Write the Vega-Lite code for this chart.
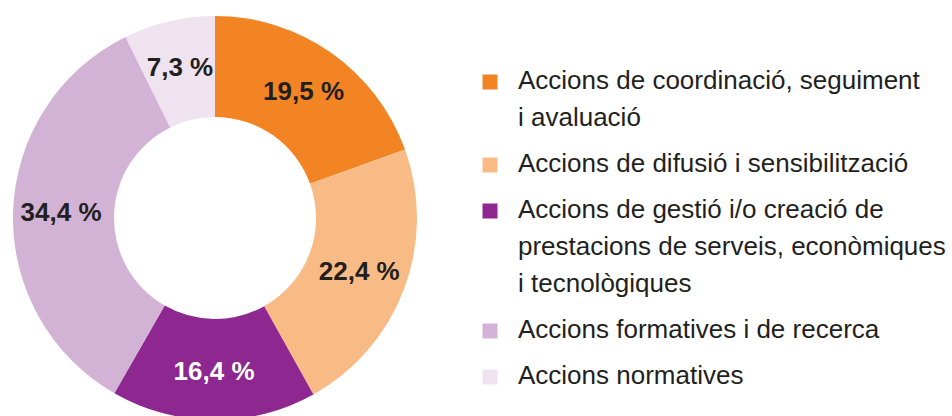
{
  "$schema": "https://vega.github.io/schema/vega-lite/v6.json",
  "width": 430,
  "height": 436,
  "padding": 0,
  "background": "white",
  "config": {
    "view": {"stroke": null},
    "font": "Liberation Sans",
    "style": {"guide-label": {"lineHeight": 37, "dy": 7}}
  },
  "data": {
    "values": [
      {"category": "Accions de coordinació, seguiment i avaluació", "value": 19.5},
      {"category": "Accions de difusió i sensibilització", "value": 22.4},
      {"category": "Accions de gestió i/o creació de prestacions de serveis, econòmiques i tecnològiques", "value": 16.4},
      {"category": "Accions formatives i de recerca", "value": 34.4},
      {"category": "Accions normatives", "value": 7.3}
    ]
  },
  "transform": [
    {"calculate": "replace(format(datum.value, '.1f'), '.', ',') + ' %'", "as": "label"}
  ],
  "encoding": {
    "theta": {"field": "value", "type": "quantitative", "stack": true},
    "order": {"field": "category", "type": "nominal"}
  },
  "layer": [
    {
      "mark": {"type": "arc", "radius": 202, "radius2": 101, "stroke": null},
      "encoding": {
        "color": {
          "field": "category",
          "type": "nominal",
          "scale": {
            "domain": [
              "Accions de coordinació, seguiment i avaluació",
              "Accions de difusió i sensibilització",
              "Accions de gestió i/o creació de prestacions de serveis, econòmiques i tecnològiques",
              "Accions formatives i de recerca",
              "Accions normatives"
            ],
            "range": ["#F38424", "#F9BB85", "#8E278F", "#D2B3D5", "#EEE3EF"]
          },
          "legend": {
            "title": null,
            "orient": "none",
            "legendX": 477,
            "legendY": 69,
            "padding": 0,
            "symbolType": "square",
            "symbolSize": 225,
            "symbolStrokeWidth": 0,
            "symbolOpacity": 1,
            "labelFont": "Liberation Sans",
            "labelFontSize": 26,
            "labelColor": "#231F20",
            "labelOffset": 15,
            "labelLimit": 0,
            "labelBaseline": "alphabetic",
            "rowPadding": 20,
            "labelExpr": "datum.label == 'Accions de coordinació, seguiment i avaluació' ? ['Accions de coordinació, seguiment', 'i avaluació'] : datum.label == 'Accions de gestió i/o creació de prestacions de serveis, econòmiques i tecnològiques' ? ['Accions de gestió i/o creació de', 'prestacions de serveis, econòmiques', 'i tecnològiques'] : datum.label"
          }
        }
      }
    },
    {
      "mark": {"type": "text", "radius": 154, "font": "Liberation Sans", "fontSize": 26, "fontWeight": "bold"},
      "encoding": {
        "detail": {"field": "category", "type": "nominal"},
        "text": {"field": "label", "type": "nominal"},
        "color": {
          "condition": {"test": "datum.value == 16.4", "value": "#FFFFFF"},
          "value": "#231F20"
        }
      }
    }
  ]
}
